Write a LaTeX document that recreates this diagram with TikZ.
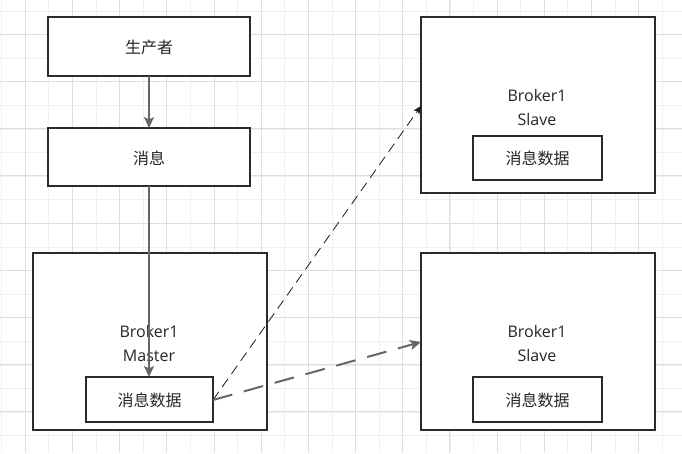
\documentclass[tikz,border=0pt]{standalone}
\usepackage{fontspec}
\setmainfont{Open Sans}
\newfontfamily\cjk{Noto Sans CJK SC}
\usetikzlibrary{arrows.meta}
\definecolor{gridminor}{HTML}{F0F0F0}
\definecolor{gridmajor}{HTML}{DEDEDE}
\definecolor{boxline}{HTML}{2B2B2B}
\definecolor{arrowgray}{HTML}{666666}
\tikzset{
  box/.style={draw=boxline, line width=1.1pt, fill=white, inner sep=0pt},
  lbl/.style={font=\fontsize{16}{24}\selectfont, align=center, inner sep=0pt, text=black!85},
  solidarrow/.style={draw=arrowgray, line width=2pt, -{Stealth[length=11pt,width=10pt,inset=2.5pt]}},
  thindash/.style={draw=black!90, line width=0.8pt, dash pattern=on 10pt off 6pt, -{Stealth[length=8pt,width=7pt,inset=2pt]}},
  thickdash/.style={draw=arrowgray, line width=2pt, dash pattern=on 20pt off 12pt, -{Stealth[length=11pt,width=10pt,inset=2.5pt]}}
}
\begin{document}
\begin{tikzpicture}[x=1pt,y=-1pt]
\useasboundingbox (0,0) rectangle (682,453);
\fill[white] (0,0) rectangle (682,453);
% grid
\foreach \i in {0,...,30} {
  \pgfmathsetmacro{\xx}{1.6+23.595*\i}
  \pgfmathsetmacro{\yy}{-12.5+23.595*\i}
  \draw[gridminor, line width=0.8pt] (\xx,0) -- (\xx,453);
  \draw[gridminor, line width=0.8pt] (0,\yy) -- (682,\yy);
}
\foreach \i in {0,...,15} {
  \pgfmathsetmacro{\xx}{25.2+47.19*\i}
  \pgfmathsetmacro{\yy}{-12.9+47.19*\i}
  \draw[gridmajor, line width=0.9pt] (\xx,0) -- (\xx,453);
  \draw[gridmajor, line width=0.9pt] (0,\yy) -- (682,\yy);
}
% boxes
\path[box] (48,17) rectangle (250,76);
\node[lbl] (prod) at (149,47) {\cjk 生产者};
\coordinate (prodB) at (149,76);
\path[box] (48,128) rectangle (250,186);
\node[lbl] (msg) at (149,158) {\cjk 消息};
\coordinate (msgT) at (149,128);
\coordinate (msgB) at (149,186);

\path[box] (33,253) rectangle (267,430);
\node[lbl] (master) at (149,343) {Broker1\\Master};
\path[box] (86,377) rectangle (213,422);
\node[lbl] (mdata) at (149.5,400) {\cjk 消息数据};
\coordinate (mdataT) at (149,377);
\coordinate (mdataR) at (213,400);

\path[box] (421,17) rectangle (655,193);
\node[lbl] (s1) at (537,107) {Broker1\\Slave};
\path[box] (473,136) rectangle (602,180);
\node[lbl] (s1data) at (537.5,158) {\cjk 消息数据};
\coordinate (s1L) at (421,106);

\path[box] (421,253) rectangle (655,430);
\node[lbl] (s2) at (537,343) {Broker1\\Slave};
\path[box] (473,377) rectangle (602,422);
\node[lbl] (s2data) at (537.5,400) {\cjk 消息数据};
\coordinate (s2L) at (421,342);

% connectors
\draw[solidarrow] (prodB) -- (msgT);
\draw[solidarrow] (msgB) -- (mdataT);
\draw[thindash] (mdataR) -- (s1L);
\draw[thickdash] (mdataR) -- (s2L);
\end{tikzpicture}
\end{document}
